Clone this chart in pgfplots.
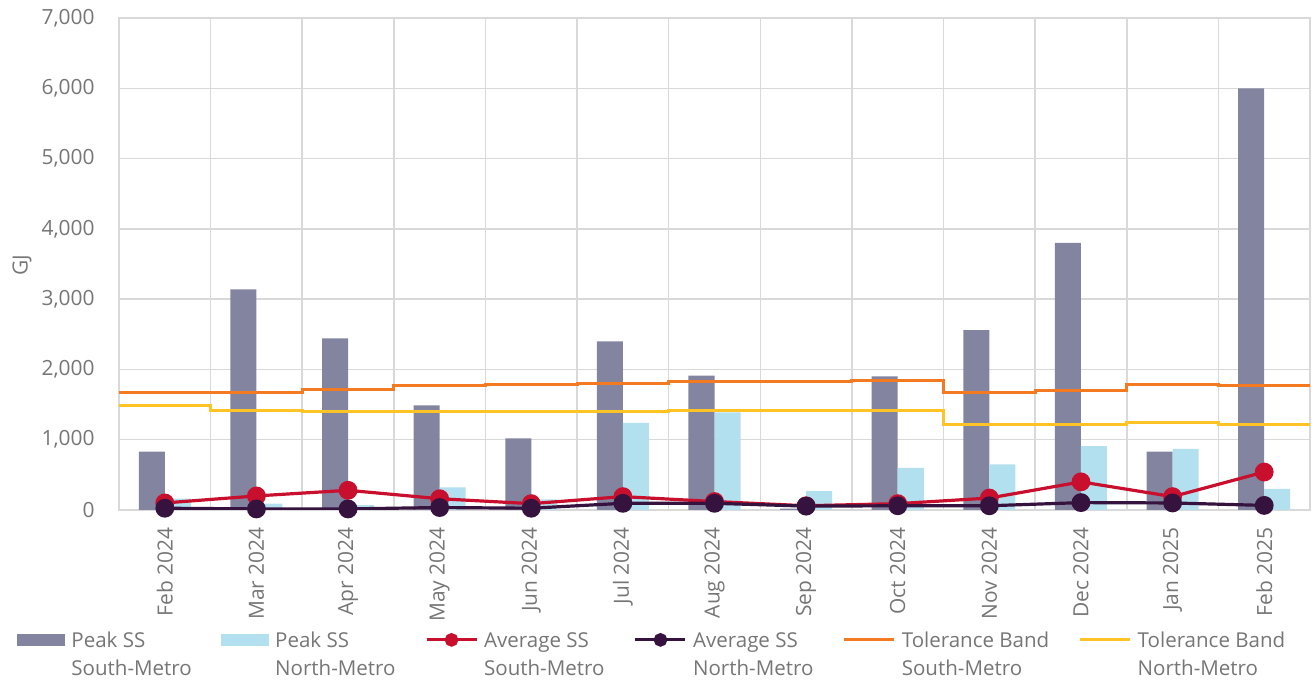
\documentclass[border=0pt]{standalone}
\usepackage{fontspec}
\setmainfont{Open Sans}
\usepackage{pgfplots}
\usepackage{pgfplotstable}
\pgfplotsset{compat=1.18}

\definecolor{peakS}{HTML}{8385A0}
\definecolor{peakN}{HTML}{B3E0EE}
\definecolor{avgS}{HTML}{C8102E}
\definecolor{avgN}{HTML}{36133E}
\definecolor{tolS}{HTML}{F47A22}
\definecolor{tolN}{HTML}{FFC325}
\definecolor{txt}{HTML}{767676}
\definecolor{grd}{HTML}{D9D9D9}

% monthly values, GJ
\pgfplotstableread{
x peakS peakN avgS avgN
0  830  160  100 25
1  3140 90   200 15
2  2440 70   280 15
3  1490 320  160 35
4  1020 150  90  25
5  2400 1240 190 95
6  1910 1390 120 95
7  20   270  60  55
8  1900 600  90  60
9  2560 650  170 60
10 3800 910  400 105
11 830  870  190 100
12 6000 300  540 65
}\ssdata

\pgfplotsset{
  barleg/.style={legend image code/.code={\fill[##1] (0bp,1bp) rectangle (24bp,7bp);}},
  lineleg/.style={legend image code/.code={\draw[mark repeat=2,mark phase=2,##1,mark size=2.6bp] plot coordinates {(0bp,4bp)(12.5bp,4bp)(25bp,4bp)};}},
  stepleg/.style={legend image code/.code={\draw[##1] (0bp,4bp) -- (25bp,4bp);}},
}

\newcommand{\two}[2]{\begin{tabular}[t]{@{}l@{}}#1\\#2\end{tabular}}

\begin{document}
\begin{tikzpicture}
\begin{axis}[
  scale only axis,
  width=595.5bp, height=246bp,
  xmin=-0.5, xmax=12.5,
  ymin=0, ymax=7000,
  xtick={0,...,12},
  xticklabels={Feb 2024,Mar 2024,Apr 2024,May 2024,Jun 2024,Jul 2024,Aug 2024,Sep 2024,Oct 2024,Nov 2024,Dec 2024,Jan 2025,Feb 2025},
  minor xtick={-0.5,0.5,...,12.5},
  ytick={0,1000,...,7000},
  xminorgrids, ymajorgrids,
  major tick length=0pt, minor tick length=0pt,
  grid style={grd, line width=0.75bp},
  minor grid style={grd, line width=0.75bp},
  axis line style={grd, line width=0.8bp},
  tick label style={font=\fontsize{10.5}{12}\selectfont, text=txt},
  xticklabel style={rotate=90, anchor=east, inner sep=0pt},
  yticklabel style={anchor=east, inner sep=0pt},
  xticklabel shift=8.5bp, yticklabel shift=12bp,
  /pgf/number format/.cd, 1000 sep={,}, assume math mode=true, /pgfplots/.cd,
  ylabel={GJ},
  ylabel style={at={(axis description cs:-0.0814,0.498)}, anchor=center, font=\fontsize{10.5}{12}\selectfont, text=txt},
  legend columns=6,
  legend style={at={(axis description cs:-0.0856,-0.2398)}, anchor=north west,
    draw=none, fill=none, inner sep=0pt,
    font=\fontsize{10.3}{14}\selectfont, text=txt,
    nodes={inner sep=0pt, anchor=base west},
    /tikz/every odd column/.append style={column sep=3bp},
    /tikz/every even column/.append style={column sep=14.7bp}},
]
\coordinate (sw) at (rel axis cs:0,0);
\coordinate (ne) at (rel axis cs:1,1);

\addplot[ybar, bar width=0.284, bar shift=-0.142, fill=peakS, draw=none, barleg]
  table[x=x, y=peakS]{\ssdata};
\addlegendentry{\two{Peak SS}{South-Metro}}
\addplot[ybar, bar width=0.284, bar shift=0.142, fill=peakN, draw=none, barleg]
  table[x=x, y=peakN]{\ssdata};
\addlegendentry{\two{Peak SS}{North-Metro}}

\addplot[avgS, line width=1.6bp, mark=*, mark size=3.9bp, mark options={fill=avgS, draw=avgS}, lineleg]
  table[x=x, y=avgS]{\ssdata};
\addlegendentry{\two{Average SS}{South-Metro}}
\addplot[avgN, line width=1.6bp, mark=*, mark size=3.9bp, mark options={fill=avgN, draw=avgN}, lineleg]
  table[x=x, y=avgN]{\ssdata};
\addlegendentry{\two{Average SS}{North-Metro}}

% tolerance bands, one level per month
\addplot[tolS, line width=1.5bp, const plot mark left, stepleg] coordinates {
  (-0.5,1665) (0.5,1670) (1.5,1710) (2.5,1770) (3.5,1790) (4.5,1797)
  (5.5,1825) (6.5,1835) (7.5,1840) (8.5,1670) (9.5,1703) (10.5,1788)
  (11.5,1774) (12.5,1774)};
\addlegendentry{\two{Tolerance Band}{South-Metro}}
\addplot[tolN, line width=1.5bp, const plot mark left, stepleg] coordinates {
  (-0.5,1484) (0.5,1418) (1.5,1408) (2.5,1404) (3.5,1398) (4.5,1398)
  (5.5,1413) (6.5,1422) (7.5,1422) (8.5,1214) (9.5,1223) (10.5,1238)
  (11.5,1214) (12.5,1214)};
\addlegendentry{\two{Tolerance Band}{North-Metro}}
\end{axis}
\pgfresetboundingbox
\path ([xshift=-59.5bp,yshift=-87bp]sw) rectangle ([xshift=2.5bp,yshift=9bp]ne);
\end{tikzpicture}
\end{document}
